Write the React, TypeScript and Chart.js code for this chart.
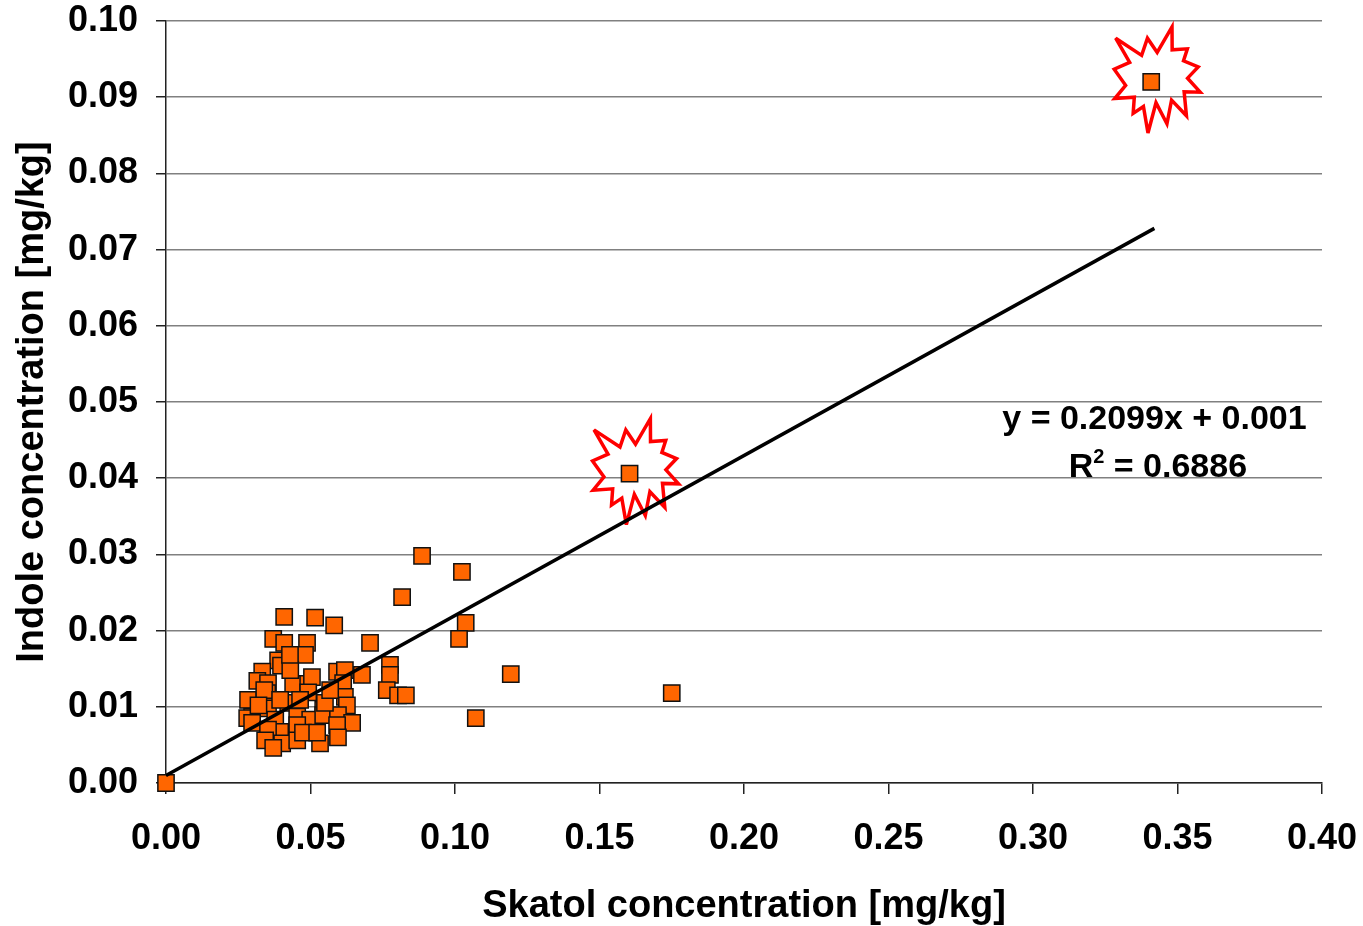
import React, { useEffect, useRef } from "react";
import { Chart, registerables } from "chart.js";

Chart.register(...registerables);

const xTickValues = [0, 0.05, 0.1, 0.15, 0.2, 0.25, 0.3, 0.35, 0.4];
const yTickValues = [0, 0.01, 0.02, 0.03, 0.04, 0.05, 0.06, 0.07, 0.08, 0.09, 0.1];

const skatol = [
  0.0409, 0.0516, 0.0582, 0.0706, 0.0371, 0.0409, 0.0488, 0.0481, 0.0388, 0.0398,
  0.0333, 0.0316, 0.0353, 0.044, 0.0492, 0.0505, 0.0592, 0.0619, 0.0678, 0.0775,
  0.0775, 0.0764, 0.0803, 0.083, 0.0613, 0.0619, 0.0626, 0.0544, 0.0492, 0.0423,
  0.035, 0.0284, 0.0353, 0.0298, 0.0281, 0.0298, 0.0378, 0.0454, 0.0499, 0.0544,
  0.0595, 0.0644, 0.0592, 0.0454, 0.0395, 0.0353, 0.0343, 0.0402, 0.0454, 0.0474,
  0.0533, 0.0595, 0.0371, 0.0523, 0.055, 0.034, 0.043, 0.0464, 0.0395, 0.032,
  0.0568, 0.0429,
  0.0, 0.0886, 0.1024, 0.0817, 0.1037, 0.1014, 0.1193, 0.175, 0.1072, 0.1604, 0.3409,
];
const indole = [
  0.0218, 0.0217, 0.0207, 0.0184, 0.0189, 0.0184, 0.0184, 0.0168, 0.0161, 0.0154,
  0.0146, 0.0134, 0.0131, 0.013, 0.013, 0.0139, 0.0146, 0.0148, 0.0142, 0.0155,
  0.0142, 0.0122, 0.0115, 0.0115, 0.0131, 0.0113, 0.0102, 0.0096, 0.0119, 0.0105,
  0.0118, 0.0109, 0.0098, 0.0087, 0.0085, 0.0079, 0.0083, 0.0087, 0.0083, 0.0089,
  0.0089, 0.0079, 0.0076, 0.0076, 0.0067, 0.007, 0.0056, 0.0052, 0.0056, 0.0066,
  0.0052, 0.006, 0.0046, 0.0066, 0.0105, 0.0122, 0.0148, 0.0109, 0.0109, 0.0102,
  0.0122, 0.0168,
  0.0, 0.0298, 0.0277, 0.0244, 0.021, 0.0189, 0.0143, 0.0118, 0.0085, 0.0406, 0.092,
];

// highlighted (starburst) points
const highlightX = [0.1604, 0.3409];
const highlightY = [0.0406, 0.092];

// regression line
const slope = 0.2099;
const intercept = 0.001;
const trendX = [0, 0.342];
const equationText = "y = 0.2099x + 0.001";
const r2Text = " = 0.6886";

const xTitle = "Skatol concentration [mg/kg]";
const yTitle = "Indole concentration [mg/kg]";

const FONT = "'Liberation Sans', Arial, Helvetica, sans-serif";

// Excel "Explosion 1" (irregularSeal1) outline in 21600 units
const SEAL = [
  [10800, 5800], [14522, 0], [14155, 5325], [18380, 4457], [16702, 7315],
  [21097, 8137], [17607, 10475], [21600, 13290], [16837, 12942], [18145, 18095],
  [14020, 14457], [13247, 19737], [10532, 14935], [8485, 21600], [7715, 15627],
  [4762, 17617], [5667, 13937], [135, 14587], [3722, 11775], [0, 8615],
  [4627, 7617], [370, 2295], [7312, 6320], [8352, 2295],
];

const starPlugin = {
  id: "starbursts",
  beforeDatasetsDraw(chart: any) {
    const { ctx, scales } = chart;
    const w = 86, h = 106;
    ctx.save();
    ctx.strokeStyle = "#FF0000";
    ctx.lineWidth = 3.5;
    ctx.lineJoin = "miter";
    ctx.miterLimit = 4;
    highlightX.forEach((vx, i) => {
      const cx = scales.x.getPixelForValue(vx) + 6;
      const cy = scales.y.getPixelForValue(highlightY[i]) - 2;
      ctx.beginPath();
      SEAL.forEach(([sx, sy], k) => {
        let ux = sx / 21600 - 0.5;
        let uy = sy / 21600 - 0.5;
        if (k % 2 === 0) {
          ux *= 1.12;
          uy *= 1.12;
        }
        const px = cx + ux * w;
        const py = cy + uy * h;
        if (k === 0) ctx.moveTo(px, py);
        else ctx.lineTo(px, py);
      });
      ctx.closePath();
      ctx.stroke();
    });
    ctx.restore();
  },
  afterDatasetsDraw(chart: any) {
    const { ctx, scales } = chart;
    const big = `bold 34px ${FONT}`;
    const small = `bold 20px ${FONT}`;
    ctx.save();
    ctx.fillStyle = "#000";
    ctx.font = big;
    ctx.textBaseline = "alphabetic";
    ctx.textAlign = "right";
    const ex = scales.x.getPixelForValue(0.3947);
    const ey = scales.y.getPixelForValue(0.0464);
    ctx.fillText(equationText, ex, ey);
    // R^2 line centred
    const rW = ctx.measureText("R").width;
    const restW = ctx.measureText(r2Text).width;
    ctx.font = small;
    const supW = ctx.measureText("2").width;
    const total = rW + supW + restW;
    const cx = scales.x.getPixelForValue(0.3432);
    const ry = scales.y.getPixelForValue(0.0401);
    const x0 = cx - total / 2;
    ctx.textAlign = "left";
    ctx.font = big;
    ctx.fillText("R", x0, ry);
    ctx.font = small;
    ctx.fillText("2", x0 + rW, ry - 14);
    ctx.font = big;
    ctx.fillText(r2Text, x0 + rW + supW, ry);
    ctx.restore();
  },
};

export default function App() {
  const canvasRef = useRef<HTMLCanvasElement | null>(null);

  useEffect(() => {
    if (!canvasRef.current) return;
    const points = skatol.map((x, i) => ({ x, y: indole[i] }));
    const trend = trendX.map((x) => ({ x, y: slope * x + intercept }));
    const chart = new Chart(canvasRef.current, {
      type: "scatter",
      data: {
        datasets: [
          {
            type: "line",
            data: trend,
            borderColor: "#000",
            borderWidth: 3.5,
            pointRadius: 0,
            fill: false,
            order: 0,
          } as any,
          {
            data: points,
            pointStyle: "rect",
            pointRadius: 11.5,
            pointHoverRadius: 11.5,
            backgroundColor: "#FF6600",
            borderColor: "#111",
            borderWidth: 1.5,
            clip: false,
            order: 1,
          } as any,
        ],
      },
      options: {
        animation: false,
        responsive: false,
        events: [],
        layout: { padding: { top: 21, right: 41, left: 0, bottom: 0 } },
        plugins: {
          legend: { display: false },
          tooltip: { enabled: false },
        },
        scales: {
          x: {
            type: "linear",
            min: 0,
            max: 0.4,
            afterBuildTicks: (s: any) => {
              s.ticks = xTickValues.map((v) => ({ value: v }));
            },
            afterFit: (s: any) => {
              s.height = 143;
              s.paddingLeft = 0;
              s.paddingRight = 0;
            },
            ticks: {
              color: "#000",
              font: { family: FONT, size: 36, weight: "bold" },
              padding: 23,
              callback: (v: any) => Number(v).toFixed(2),
            },
            grid: {
              drawOnChartArea: false,
              drawTicks: true,
              tickLength: 11,
              color: "#222",
              lineWidth: 1.5,
            },
            border: { display: true, color: "#222", width: 1.5 },
            title: {
              display: true,
              text: xTitle,
              color: "#000",
              font: { family: FONT, size: 38, weight: "bold", lineHeight: 1.05 },
              padding: { top: 0, bottom: 0 },
            },
          },
          y: {
            type: "linear",
            min: 0,
            max: 0.1,
            afterBuildTicks: (s: any) => {
              s.ticks = yTickValues.map((v) => ({ value: v }));
            },
            afterFit: (s: any) => {
              s.width = 166;
              s.paddingTop = 0;
              s.paddingBottom = 0;
            },
            ticks: {
              color: "#000",
              font: { family: FONT, size: 36, weight: "bold" },
              padding: 18,
              callback: (v: any) => Number(v).toFixed(2),
            },
            grid: {
              drawOnChartArea: true,
              drawTicks: true,
              tickLength: 10,
              color: "#808080",
              tickColor: "#222",
              lineWidth: 1.5,
            },
            border: { display: true, color: "#222", width: 1.5 },
            title: {
              display: true,
              text: yTitle,
              color: "#000",
              font: { family: FONT, size: 38, weight: "bold" },
              padding: { top: 10, bottom: 0 },
            },
          },
        },
      },
      plugins: [starPlugin],
    });
    return () => chart.destroy();
  }, []);

  return (
    <div style={{ position: "absolute", left: 0, top: 0, width: 1363, height: 926, background: "#fff" }}>
      <canvas ref={canvasRef} width={1363} height={926} style={{ width: 1363, height: 926 }} />
    </div>
  );
}
